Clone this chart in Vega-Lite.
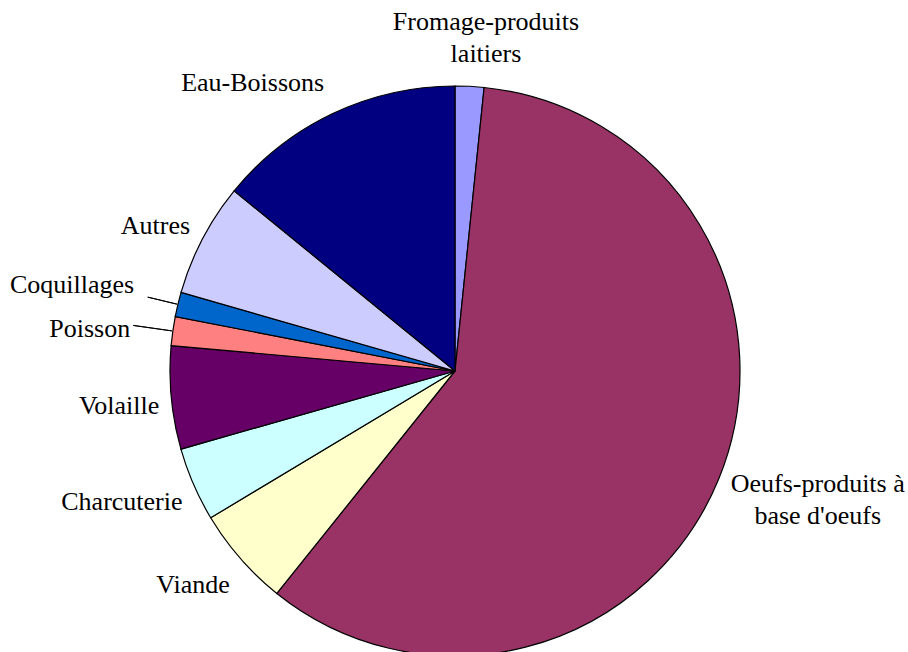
{
  "$schema": "https://vega.github.io/schema/vega-lite/v6.json",
  "width": 904,
  "height": 562,
  "padding": {"left": 3, "top": 90, "right": 1, "bottom": 0},
  "autosize": {"type": "none"},
  "background": "white",
  "view": {"stroke": null},
  "config": {"text": {"font": "Liberation Serif", "fontSize": 26, "color": "#000000", "lineHeight": 32}},
  "data": {
    "values": [
      {"cat": "Fromage", "label": ["Fromage-produits", "laitiers"], "value": 1.63, "order": 1},
      {"cat": "Oeufs", "label": ["Oeufs-produits à", "base d'oeufs"], "value": 59.12, "order": 2},
      {"cat": "Viande", "label": "Viande", "value": 5.64, "order": 3},
      {"cat": "Charcuterie", "label": "Charcuterie", "value": 4.19, "order": 4},
      {"cat": "Volaille", "label": "Volaille", "value": 5.84, "order": 5},
      {"cat": "Poisson", "label": "Poisson", "value": 1.64, "order": 6},
      {"cat": "Coquillages", "label": "Coquillages", "value": 1.39, "order": 7},
      {"cat": "Autres", "label": "Autres", "value": 6.44, "order": 8},
      {"cat": "Eau-Boissons", "label": "Eau-Boissons", "value": 14.11, "order": 9}
    ]
  },
  "encoding": {
    "theta": {"field": "value", "type": "quantitative", "stack": true},
    "order": {"field": "order", "type": "quantitative"}
  },
  "layer": [
    {
      "mark": {"type": "arc", "outerRadius": 285, "stroke": "#000000", "strokeWidth": 1.2},
      "encoding": {
        "color": {
          "field": "cat", "type": "nominal", "legend": null,
          "scale": {
            "domain": ["Fromage", "Oeufs", "Viande", "Charcuterie", "Volaille", "Poisson", "Coquillages", "Autres", "Eau-Boissons"],
            "range": ["#9999FF", "#993366", "#FFFFCC", "#CCFFFF", "#660066", "#FF8080", "#0066CC", "#CCCCFF", "#000080"]
          }
        }
      }
    },
    {
      "mark": {"type": "arc", "innerRadius": 286, "outerRadius": 325, "padAngle": 0.6, "fillOpacity": 0, "stroke": "#000000", "strokeWidth": 1},
      "encoding": {"strokeOpacity": {"condition": {"test": "datum.cat === 'Poisson'", "value": 1}, "value": 0}}
    },
    {
      "mark": {"type": "arc", "innerRadius": 286, "outerRadius": 316, "padAngle": 0.6, "fillOpacity": 0, "stroke": "#000000", "strokeWidth": 1},
      "encoding": {"strokeOpacity": {"condition": {"test": "datum.cat === 'Coquillages'", "value": 1}, "value": 0}}
    },
    {
      "mark": {"type": "text", "radius": 332, "align": "center", "baseline": "middle", "dx": 14, "dy": -17},
      "encoding": {"text": {"condition": {"test": "datum.cat === 'Fromage'", "field": "label", "type": "nominal"}, "value": ""}}
    },
    {
      "mark": {"type": "text", "radius": 392, "align": "center", "baseline": "middle", "dy": -36},
      "encoding": {"text": {"condition": {"test": "datum.cat === 'Oeufs'", "field": "label", "type": "nominal"}, "value": ""}}
    },
    {
      "mark": {"type": "text", "radius": 299, "align": "right", "baseline": "middle", "dy": 17},
      "encoding": {"text": {"condition": {"test": "datum.cat === 'Viande'", "field": "label", "type": "nominal"}, "value": ""}}
    },
    {
      "mark": {"type": "text", "radius": 297, "align": "right", "baseline": "middle", "dy": 13},
      "encoding": {"text": {"condition": {"test": "datum.cat === 'Charcuterie'", "field": "label", "type": "nominal"}, "value": ""}}
    },
    {
      "mark": {"type": "text", "radius": 297, "align": "right", "baseline": "middle", "dy": 7},
      "encoding": {"text": {"condition": {"test": "datum.cat === 'Volaille'", "field": "label", "type": "nominal"}, "value": ""}}
    },
    {
      "mark": {"type": "text", "radius": 328, "align": "right", "baseline": "middle", "dy": 4},
      "encoding": {"text": {"condition": {"test": "datum.cat === 'Poisson'", "field": "label", "type": "nominal"}, "value": ""}}
    },
    {
      "mark": {"type": "text", "radius": 330, "align": "right", "baseline": "middle", "dy": -9},
      "encoding": {"text": {"condition": {"test": "datum.cat === 'Coquillages'", "field": "label", "type": "nominal"}, "value": ""}}
    },
    {
      "mark": {"type": "text", "radius": 299, "align": "right", "baseline": "middle", "dy": -6},
      "encoding": {"text": {"condition": {"test": "datum.cat === 'Autres'", "field": "label", "type": "nominal"}, "value": ""}}
    },
    {
      "mark": {"type": "text", "radius": 305, "align": "right", "baseline": "middle", "dy": -12},
      "encoding": {"text": {"condition": {"test": "datum.cat === 'Eau-Boissons'", "field": "label", "type": "nominal"}, "value": ""}}
    }
  ]
}
